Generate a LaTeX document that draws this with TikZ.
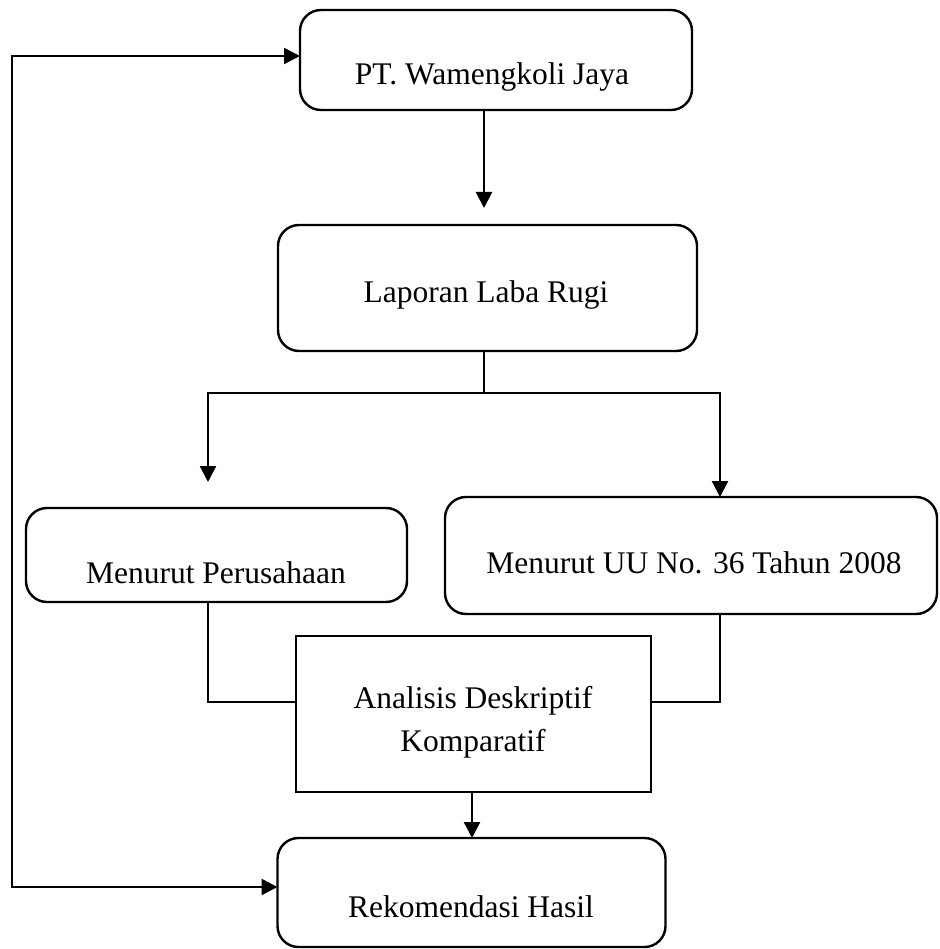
\documentclass[tikz,border=0pt]{standalone}
\usepackage{fontspec}
\setmainfont{Liberation Serif}
\usetikzlibrary{arrows.meta}
\begin{document}
\begin{tikzpicture}[x=1pt,y=-1pt,
  box/.style={draw, line width=2.4pt, rounded corners=21pt, inner sep=0pt, outer sep=0pt},
  sq/.style={draw, line width=2.4pt, inner sep=0pt, outer sep=0pt},
  lbl/.style={font=\fontsize{31.5}{43}\selectfont, inner sep=0pt, anchor=base},
  line/.style={line width=2.4pt},
  arr/.style={line width=2.4pt, -{Triangle[width=16pt,length=16pt]}},
  dbl/.style={line width=2.4pt, {Triangle[width=16pt,length=16pt]}-{Triangle[width=16pt,length=16pt]}}]
\useasboundingbox (0,0) rectangle (939,949);

% boxes
\node[box, minimum width=392pt, minimum height=100pt] (pt) at (496,60) {};
\node[box, minimum width=419pt, minimum height=126pt] (lap) at (487.5,288) {};
\node[box, minimum width=381pt, minimum height=94pt] (per) at (216.5,555) {};
\node[box, minimum width=492pt, minimum height=117pt] (uu) at (691,555.5) {};
\node[sq, minimum width=355pt, minimum height=156pt] (ana) at (473.5,714) {};
\node[box, minimum width=388pt, minimum height=109pt] (rek) at (471.5,892.5) {};

% texts
\node[lbl] (ptT) at (492,85) {PT. Wamengkoli Jaya};
\node[lbl] (lapT) at (486,302) {Laporan Laba Rugi};
\node[lbl] (perT) at (216,583) {Menurut Perusahaan};
\node[lbl] (uuT) at (694,573) {Menurut UU No. 36 Tahun 2008};
\node[font=\fontsize{31.5}{43}\selectfont, inner sep=0pt, align=center] (anaT) at (473,722) {Analisis Deskriptif\\Komparatif};
\node[lbl] (rekT) at (471,917) {Rekomendasi Hasil};

% connectors
\coordinate (pa) at (484,208);
\draw[arr] (pa |- pt.south) -- (pa);

\coordinate (split) at (484,393);
\draw[line] (split |- lap.south) -- (split);
\coordinate (lt) at (208,482);
\coordinate (rt) at (720,497);
\draw[arr] (split) -| (lt);
\draw[arr] (split) -| (rt |- uu.north);

\coordinate (jl) at (208,702);
\coordinate (jr) at (720,702);
\draw[line] (per.south -| jl) |- (ana.west |- jl);
\draw[line] (uu.south -| jr) |- (ana.east |- jr);

\coordinate (dn) at (472,0);
\draw[arr] (ana.south -| dn) -- (rek.north -| dn);

\coordinate (fbl) at (12,887);
\coordinate (fbt) at (12,56);
\draw[dbl] (rek.west |- fbl) -- (fbl) -- (fbt) -- (pt.west |- fbt);
\end{tikzpicture}
\end{document}
